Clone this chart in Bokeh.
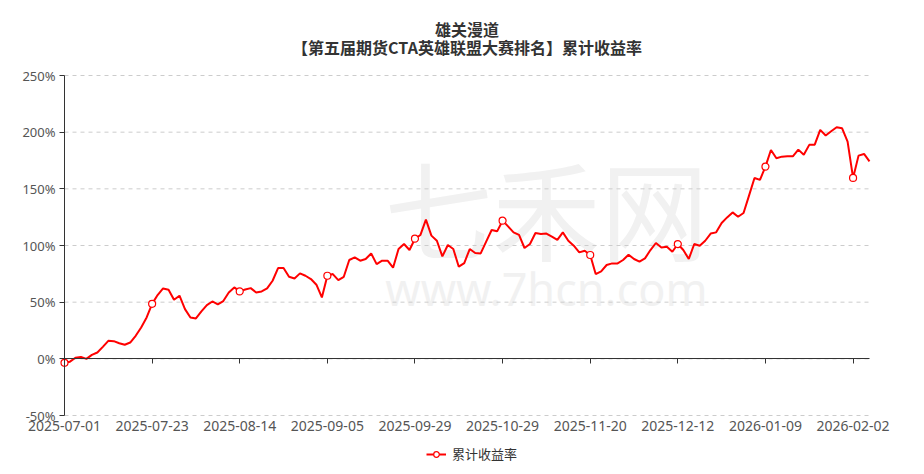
import pandas as pd
from bokeh.plotting import figure
from bokeh.models import (FixedTicker, PrintfTickFormatter, Legend, LinearAxis,
                          LegendItem, Label, ColumnDataSource)
from bokeh.embed import file_html
from bokeh.resources import INLINE

# ---- data ----
holidays = ["2025-10-01", "2025-10-02", "2025-10-03", "2025-10-06", "2025-10-07",
            "2025-10-08", "2026-01-01", "2026-01-02"]
missing_days = ["2025-12-25", "2025-12-26"]
all_days = pd.bdate_range("2025-07-01", "2026-02-05")
dates = [d.strftime("%Y-%m-%d") for d in all_days
         if d.strftime("%Y-%m-%d") not in holidays + missing_days]

returns = [
    -3.5, -2.5, 1.0, 1.7, 0.0, 3.5, 5.6, 10.6, 15.9, 15.6,
    13.8, 12.4, 14.4, 20.3, 27.7, 36.5, 48.5, 56.3, 62.1, 61.0,
    52.1, 55.7, 43.9, 36.5, 35.6, 41.8, 47.4, 50.6, 48.0, 51.0,
    58.5, 63.0, 59.5, 61.2, 62.4, 58.6, 59.5, 62.1, 68.9, 80.1,
    80.1, 72.4, 70.9, 75.4, 73.3, 70.4, 65.4, 54.2, 73.3, 74.8,
    69.5, 72.4, 87.2, 89.5, 86.6, 88.1, 93.0, 83.6, 86.6, 86.6,
    80.4, 96.9, 101.3, 96.0, 106.0, 109.3, 122.8, 108.7, 104.2, 90.4,
    100.4, 96.9, 81.3, 84.5, 96.9, 93.4, 93.0, 103.4, 113.7, 112.5,
    121.9, 116.9, 111.6, 109.3, 97.8, 101.3, 111.0, 110.2, 110.5, 107.8,
    104.9, 111.6, 104.2, 99.8, 93.9, 95.4, 91.6, 74.8, 77.1, 82.8,
    84.2, 84.2, 87.2, 91.9, 88.1, 85.7, 88.6, 96.0, 102.2, 98.3,
    98.9, 94.5, 101.3, 96.0, 88.1, 101.3, 99.8, 104.2, 110.5, 111.6,
    119.9, 124.8, 129.2, 125.4, 128.7, 144.0, 159.6, 157.9, 169.6, 184.3,
    177.0, 178.4, 178.7, 178.7, 184.6, 180.0, 188.8, 189.0, 202.0, 197.0,
    200.8, 204.3, 203.4, 191.7, 159.6, 179.3, 180.8, 174.3,
]
dates = dates[:len(returns)]
y_ticks = [-50, 0, 50, 100, 150, 200, 250]
y_min, y_max = -50, 250
label_step = 16
x_ticks = list(range(0, len(returns), label_step))

series_name = "累计收益率"
title1 = "雄关漫道"
title2 = "【第五届期货CTA英雄联盟大赛排名】累计收益率"

RED = "#ff0000"
FONT = "Noto Sans CJK SC"

# layout geometry (pixels)
W, H = 920, 470
TOP, BOTTOM = 75, 55          # space above 250% and below -50%
LEFT, RIGHT = 64, 51          # space left of first and right of last point
n_last = len(returns) - 1
py = (H - TOP - BOTTOM) / (y_max - y_min)
px = (W - LEFT - RIGHT) / n_last

idx = list(range(len(returns)))
src = ColumnDataSource(dict(x=idx, y=returns, d=dates))
msrc = ColumnDataSource(dict(x=[idx[i] for i in x_ticks], y=[returns[i] for i in x_ticks]))

p = figure(width=W, height=H, output_backend="svg", toolbar_location=None,
           x_range=(-LEFT / px, n_last + RIGHT / px),
           y_range=(y_min - BOTTOM / py, y_max + TOP / py),
           min_border_left=0, min_border_right=0, min_border_top=0,
           min_border_bottom=0, x_axis_location=None, y_axis_location=None)
p.outline_line_color = None
p.background_fill_color = "white"
p.xgrid.visible = False
p.ygrid.visible = False

# titles (two centred lines above the plot area)
mid_x = n_last / 2
for txt, off in ((title1, 47), (title2, 29)):
    p.add_layout(Label(x=mid_x, y=y_max + off / py, text=txt, text_font=FONT,
                       text_font_size="16px", text_font_style="bold",
                       text_color="#333333", text_align="center",
                       text_baseline="middle"))

# watermark
p.add_layout(Label(x=88, y=135, text="七禾网", text_font=FONT, text_font_size="108px",
                   text_color="#f1f1f1", text_align="center", text_baseline="middle",
                   level="image"))
p.add_layout(Label(x=88, y=62, text="www.7hcn.com", text_font="Noto Sans",
                   text_font_size="45px", text_color="#f1f1f1", text_align="center",
                   text_baseline="middle", level="image"))

# dashed horizontal grid lines spanning the category range
p.segment(x0=[0] * len(y_ticks), y0=y_ticks, x1=[n_last] * len(y_ticks), y1=y_ticks,
          line_color="#cccccc", line_width=1, line_dash="4 4", level="underlay")

# y axis at the first category
y_axis = LinearAxis(fixed_location=0, ticker=FixedTicker(ticks=y_ticks),
                    bounds=(y_min, y_max), formatter=PrintfTickFormatter(format="%d%%"),
                    axis_line_color="#333333", major_tick_line_color="#333333",
                    major_tick_out=5, major_tick_in=0, minor_tick_line_color=None,
                    major_label_text_font="Noto Sans", major_label_text_font_size="13px",
                    major_label_text_color="#555555", major_label_standoff=4)
p.add_layout(y_axis, "left")

# x axis line with ticks on the zero line
zero_axis = LinearAxis(fixed_location=0, ticker=FixedTicker(ticks=x_ticks),
                       bounds=(0, n_last),
                       axis_line_color="#333333", major_tick_line_color="#333333",
                       major_tick_out=5, major_tick_in=0, minor_tick_line_color=None,
                       major_label_text_color=None)
p.add_layout(zero_axis, "below")

# x labels at the bottom
label_axis = LinearAxis(fixed_location=y_min, ticker=FixedTicker(ticks=x_ticks),
                        major_label_overrides={i: dates[i] for i in x_ticks},
                        axis_line_color=None, major_tick_line_color=None,
                        minor_tick_line_color=None, major_tick_out=0, major_tick_in=0,
                        major_label_text_font="Noto Sans",
                        major_label_text_font_size="14px",
                        major_label_text_color="#555555", major_label_standoff=5)
p.add_layout(label_axis, "below")

# series
r_line = p.line("x", "y", source=src, line_color=RED, line_width=2)
r_pts = p.scatter("x", "y", source=msrc, size=7, marker="circle", fill_color="white",
                  line_color=RED, line_width=1.2)

legend = Legend(items=[LegendItem(label=series_name, renderers=[r_line, r_pts])],
                orientation="horizontal", location=(426, 7),
                label_text_font=FONT, label_text_font_size="13px",
                label_text_color="#333333", glyph_width=20, glyph_height=14,
                border_line_color=None, background_fill_alpha=0,
                padding=2, margin=0, label_standoff=6)
p.add_layout(legend, "center")

open("out.html", "w").write(file_html(p, INLINE))
